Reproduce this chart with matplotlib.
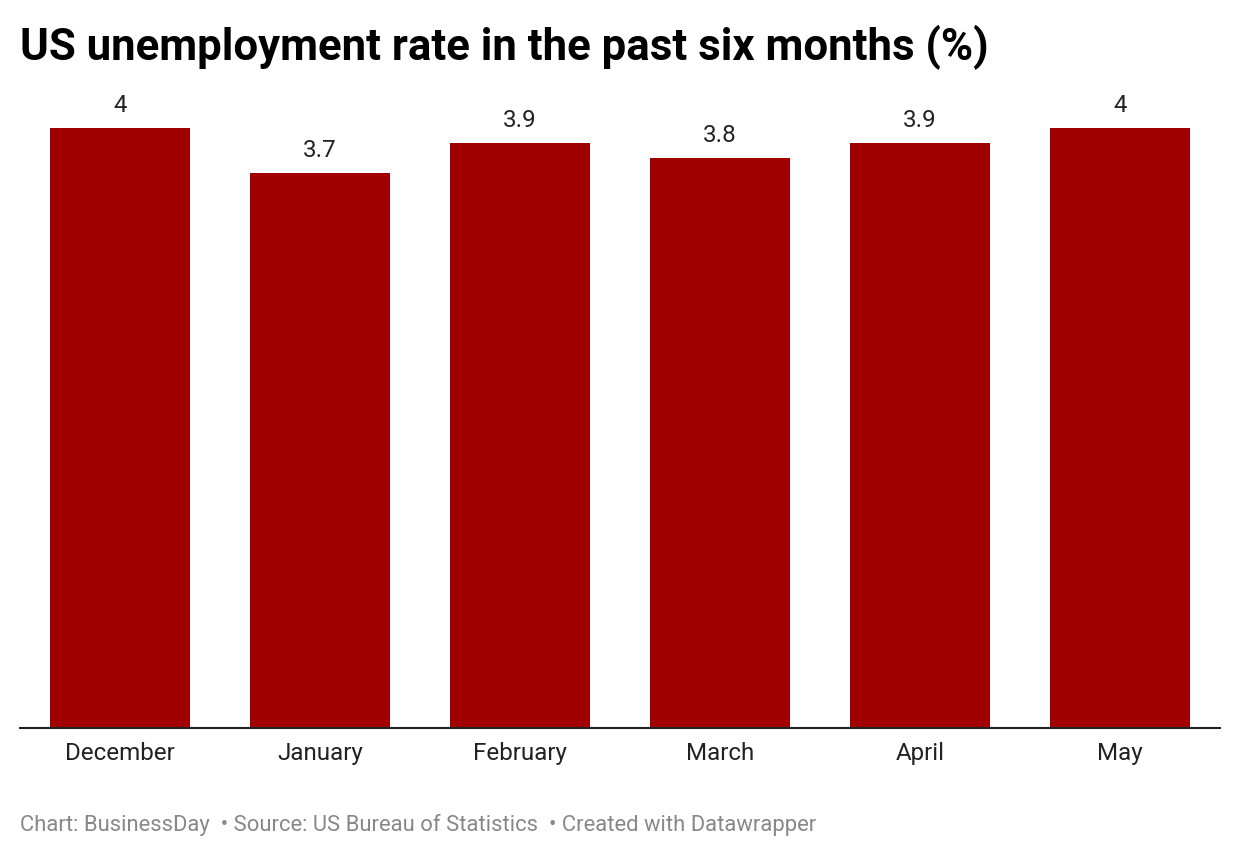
import matplotlib
matplotlib.use("Agg")
import matplotlib.pyplot as plt

months = ["December", "January", "February", "March", "April", "May"]
rates = [4.0, 3.7, 3.9, 3.8, 3.9, 4.0]
value_labels = ["4", "3.7", "3.9", "3.8", "3.9", "4"]

title = "US unemployment rate in the past six months (%)"
footer = "Chart: BusinessDay  \u2022 Source: US Bureau of Statistics  \u2022 Created with Datawrapper"

plt.rcParams['font.family'] = ['Roboto', 'DejaVu Sans']

W, H = 1240, 858
fig = plt.figure(figsize=(W / 100, H / 100), dpi=100)
fig.patch.set_facecolor("white")

# axes: x 20..1220, y baseline 728, top 88
ax = fig.add_axes([20 / W, (H - 728) / H, 1200 / W, 640 / H])
x = list(range(len(months)))
ax.bar(x, rates, width=0.7, color="#a00000")
ax.set_xlim(-0.5, len(months) - 0.5)
ax.set_ylim(0, 640 / 150)

for xi, v, lab in zip(x, rates, value_labels):
    ax.annotate(lab, (xi, v), xytext=(0, 8), textcoords="offset points",
                ha="center", va="bottom", fontsize=17.4, color="#222222")

ax.set_xticks(x)
ax.set_xticklabels(months, fontsize=17.4, color="#222222")
ax.tick_params(axis="x", length=0, pad=10)
ax.set_yticks([])
for s in ["top", "right", "left"]:
    ax.spines[s].set_visible(False)
ax.spines["bottom"].set_color("#222222")
ax.spines["bottom"].set_linewidth(1.5)

fig.text(20 / W, 1 - 47 / H, title, fontsize=31.5, fontweight="bold",
         color="#000000", ha="left", va="center")
fig.text(20 / W, 1 - 825 / H, footer, fontsize=15.8, color="#888888",
         ha="left", va="center")

fig.savefig("out.png", dpi=100, facecolor="white")
